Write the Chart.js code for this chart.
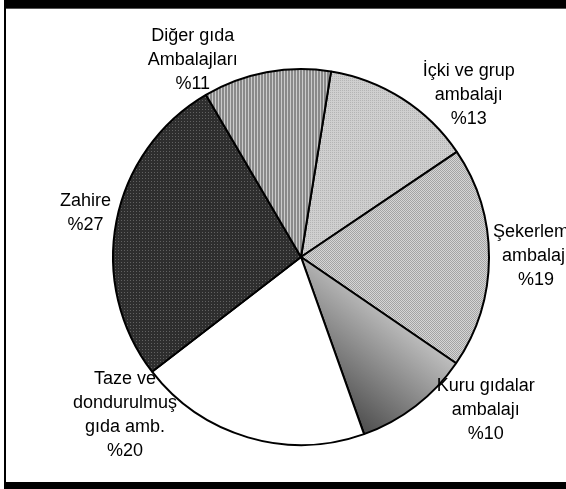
<!DOCTYPE html>
<html lang="tr">
<head>
    <meta charset="UTF-8">
    <title>Gıda ambalajı dağılımı</title>
    <script src="https://cdn.jsdelivr.net/npm/chart.js"></script>
    <style>
        body {
            margin: 0;
            background: #fff;
            font-family: 'Liberation Sans', Arial, sans-serif;
        }
        #wrap {
            position: relative;
            width: 566px;
            height: 489px;
            overflow: hidden;
        }
        /* black frame around the plot, as in the original document */
        .frame {
            position: absolute;
            left: 4px;
            top: 0;
            width: 600px;
            height: 474px;
            border-top: 8px solid #000;
            border-left: 2px solid #000;
            border-bottom: 7px solid #000;
            box-shadow: inset 0 1px 0 #555;
        }
        #pie {
            position: absolute;
            left: 0;
            top: 0;
        }
    </style>
</head>
<body>
    <div id="wrap">
        <div class="frame"></div>
        <canvas id="pie" width="566" height="489"></canvas>
    </div>

    <script>
        // Data (clockwise, starting just right of the top)
        const categories = [
            ['İçki ve grup', 'ambalajı'],
            ['Şekerleme', 'ambalajı'],
            ['Kuru gıdalar', 'ambalajı'],
            ['Taze ve', 'dondurulmuş', 'gıda amb.'],
            ['Zahire'],
            ['Diğer gıda', 'Ambalajları']
        ];
        const shares = [13, 19, 10, 20, 27, 11];

        // where each label sits: angle shift from slice middle (deg), distance as radius factor
        const labelShift = [13.4, -0.4, -12.8, 31.6, 0.5, -18.2];
        const labelDist = [1.24, 1.25, 1.275, 1.26, 1.17, 1.195];

        // small fill patterns, like the old office chart fills
        function makePattern(w, h, draw) {
            const c = document.createElement('canvas');
            c.width = w;
            c.height = h;
            const g = c.getContext('2d');
            draw(g);
            return g.createPattern(c, 'repeat');
        }

        const ctx = document.getElementById('pie').getContext('2d');

        const fineDots = makePattern(2, 2, g => {
            g.fillStyle = '#cfcfcf'; g.fillRect(0, 0, 2, 2);
            g.fillStyle = '#b4b4b4'; g.fillRect(0, 0, 1, 1);
        });
        const checker = makePattern(2, 2, g => {
            g.fillStyle = '#d6d6d6'; g.fillRect(0, 0, 2, 2);
            g.fillStyle = '#a4a4a4'; g.fillRect(0, 0, 1, 1); g.fillRect(1, 1, 1, 1);
        });
        const darkDots = makePattern(3, 3, g => {
            g.fillStyle = '#2e2e2e'; g.fillRect(0, 0, 3, 3);
            g.fillStyle = '#616161'; g.fillRect(1, 1, 1, 1);
        });
        const stripes = makePattern(3, 1, g => {
            g.fillStyle = '#8a8a8a'; g.fillRect(0, 0, 3, 1);
            g.fillStyle = '#cccccc'; g.fillRect(2, 0, 1, 1);
        });

        // gradient for the "Kuru gıdalar" slice, light top-right to dark bottom-left
        function kuruGradient(chart) {
            const area = chart.chartArea;
            if (!area) return '#888';
            const cx = (area.left + area.right) / 2;
            const cy = (area.top + area.bottom) / 2;
            const r = Math.min(area.right - area.left, area.bottom - area.top) / 2;
            const a0 = (115 - 90) * Math.PI / 180;
            const a1 = (168 - 90) * Math.PI / 180;
            const g = chart.ctx.createLinearGradient(
                cx + Math.cos(a0) * r * 0.8, cy + Math.sin(a0) * r * 0.8,
                cx + Math.cos(a1) * r, cy + Math.sin(a1) * r);
            g.addColorStop(0, '#d4d4d4');
            g.addColorStop(1, '#383838');
            return g;
        }

        const fills = [fineDots, checker, null, '#ffffff', darkDots, stripes];

        function sliceFill(context) {
            const i = context.dataIndex;
            if (i === 2) return kuruGradient(context.chart);
            return fills[i];
        }

        const outsideLabels = {
            id: 'outsideLabels',
            afterDatasetsDraw(chart) {
                const c = chart.ctx;
                const meta = chart.getDatasetMeta(0);
                c.save();
                c.fillStyle = '#000';
                c.font = "18px 'Liberation Sans', Arial, sans-serif";
                c.textAlign = 'center';
                c.textBaseline = 'middle';
                meta.data.forEach((arc, i) => {
                    const p = arc.getProps(['x', 'y', 'startAngle', 'endAngle', 'outerRadius'], true);
                    const mid = (p.startAngle + p.endAngle) / 2 + labelShift[i] * Math.PI / 180;
                    const d = p.outerRadius * labelDist[i];
                    const x = p.x + Math.cos(mid) * d;
                    const y = p.y + Math.sin(mid) * d;
                    const lines = categories[i].concat(['%' + shares[i]]);
                    lines.forEach((t, k) => {
                        c.fillText(t, x, y + (k - (lines.length - 1) / 2) * 24);
                    });
                });
                c.restore();
            }
        };

        new Chart(ctx, {
            type: 'pie',
            data: {
                labels: categories.map(l => l.join(' ')),
                datasets: [{
                    data: shares,
                    backgroundColor: sliceFill,
                    borderColor: '#000',
                    borderWidth: 2
                }]
            },
            options: {
                responsive: false,
                animation: false,
                rotation: 9.2,
                layout: {
                    padding: { top: 68, bottom: 43, left: 100, right: 64 }
                },
                plugins: {
                    legend: { display: false },
                    tooltip: { enabled: false }
                }
            },
            plugins: [outsideLabels]
        });
    </script>
</body>
</html>
